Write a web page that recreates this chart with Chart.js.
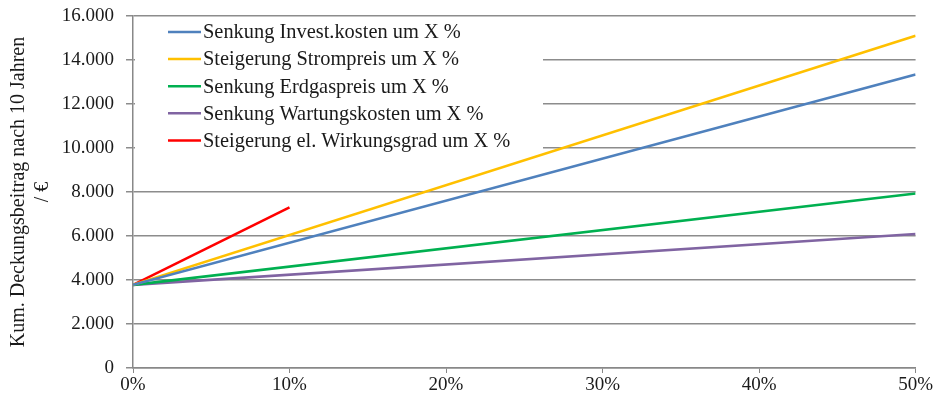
<!DOCTYPE html>
<html>
<head>
<meta charset="utf-8">
<script src="https://cdn.jsdelivr.net/npm/chart.js@4.4.1/dist/chart.umd.min.js"></script>
<style>
  html, body { margin: 0; padding: 0; background: #fff; }
  #wrap { width: 934px; height: 403px; }
</style>
</head>
<body>
<div id="wrap"><canvas id="chart" width="934" height="403"></canvas></div>
<script>
// Sensitivity of cumulative contribution margin after 10 years
const xFull = [0, 50];
const xRed = [0, 10];
const investKosten = [3780, 13340];
const strompreis = [3780, 15100];
const erdgaspreis = [3780, 7930];
const wartungskosten = [3780, 6090];
const wirkungsgrad = [3780, 7300];

const seriesNames = [
  'Senkung Invest.kosten um X %',
  'Steigerung Strompreis um X %',
  'Senkung Erdgaspreis um X %',
  'Senkung Wartungskosten um X %',
  'Steigerung el. Wirkungsgrad um X %'
];
const seriesColors = ['#4F81BD', '#FFC000', '#00B050', '#8064A2', '#FF0000'];

const yTicks = [0, 2000, 4000, 6000, 8000, 10000, 12000, 14000, 16000];
const yTitle = ['Kum. Deckungsbeitrag nach 10 Jahren', '/ €'];

const serif = '"Liberation Serif", "Times New Roman", serif';

function toPoints(xs, ys) {
  return xs.map((x, i) => ({ x: x, y: ys[i] }));
}

function fmt(v) {
  return String(v).replace(/\B(?=(\d{3})+(?!\d))/g, '.');
}

const allSeries = [
  toPoints(xFull, investKosten),
  toPoints(xFull, strompreis),
  toPoints(xFull, erdgaspreis),
  toPoints(xFull, wartungskosten),
  toPoints(xRed, wirkungsgrad)
];

// legend inside the plot: white box hides the gridlines, lines stay on top
const innerLegend = {
  id: 'innerLegend',
  beforeDatasetsDraw(chart) {
    const c = chart.ctx;
    c.save();
    c.fillStyle = '#fff';
    c.fillRect(135, 19, 408, 138);
    c.restore();
  },
  afterDatasetsDraw(chart) {
    const c = chart.ctx;
    const x0 = 168, y0 = 32, step = 27.1;
    c.save();
    c.font = '20.4px ' + serif;
    c.textBaseline = 'middle';
    chart.data.datasets.forEach((ds, i) => {
      const y = y0 + i * step;
      c.strokeStyle = ds.borderColor;
      c.lineWidth = 2.5;
      c.beginPath();
      c.moveTo(x0, y);
      c.lineTo(x0 + 33, y);
      c.stroke();
      c.fillStyle = '#1a1a1a';
      c.fillText(ds.label, x0 + 35, y + 1);
    });
    c.restore();
  }
};

new Chart(document.getElementById('chart'), {
  type: 'line',
  data: {
    datasets: allSeries.map((pts, i) => ({
      label: seriesNames[i],
      data: pts,
      borderColor: seriesColors[i],
      backgroundColor: seriesColors[i],
      borderWidth: 2.6,
      pointRadius: 0,
      tension: 0
    }))
  },
  options: {
    responsive: false,
    animation: false,
    layout: { padding: { top: 0, right: 18, bottom: 0, left: 0 } },
    plugins: { legend: { display: false }, tooltip: { enabled: false } },
    scales: {
      x: {
        type: 'linear',
        min: 0,
        max: 50,
        ticks: {
          stepSize: 10,
          callback: v => v + '%',
          color: '#1a1a1a',
          font: { family: serif, size: 19 },
          padding: 1
        },
        grid: { display: true, drawOnChartArea: false, color: '#888', tickLength: 5 },
        border: { color: '#888', width: 1.5 },
        afterFit(scale) { scale.height = 35; }
      },
      y: {
        min: 0,
        max: 16000,
        afterBuildTicks(scale) { scale.ticks = yTicks.map(v => ({ value: v })); },
        ticks: {
          callback: v => fmt(v),
          color: '#1a1a1a',
          font: { family: serif, size: 19 },
          padding: 12
        },
        grid: { color: '#8c8c8c', lineWidth: 1.5, tickLength: 7 },
        border: { color: '#888', width: 1.5 },
        title: {
          display: true,
          text: yTitle,
          color: '#1a1a1a',
          font: { family: serif, size: 20, lineHeight: 1.2 },
          padding: { top: 7, bottom: 0 }
        },
        afterFit(scale) {
          scale.width = 133;
          scale.paddingTop = 16;
          scale.paddingBottom = 0;
        }
      }
    }
  },
  plugins: [innerLegend]
});
</script>
</body>
</html>
